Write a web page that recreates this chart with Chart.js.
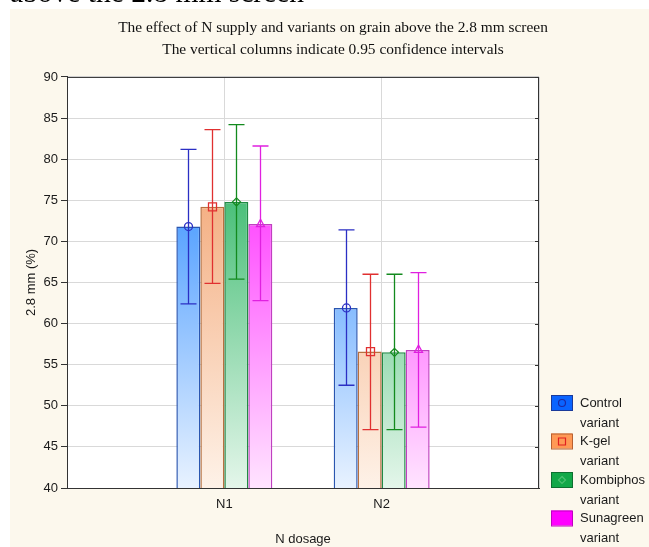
<!DOCTYPE html>
<html>
<head>
<meta charset="utf-8">
<title>N supply and variants – grain above the 2.8 mm screen</title>
<script src="https://cdn.jsdelivr.net/npm/chart.js@4.4.0/dist/chart.umd.min.js"></script>
<style>
  html, body { margin: 0; padding: 0; background: #fff; overflow: hidden; }
  #wrap { position: relative; width: 649px; height: 547px; }
  #grafico { position: absolute; left: 0; top: 0; }
  #cabecera { position: absolute; left: 10px; top: -22px; font: 29.5px/29.5px "Liberation Serif", serif; color: #000; white-space: nowrap; }
</style>
</head>
<body>
<div id="wrap">
  <canvas id="grafico" width="649" height="547"></canvas>
  <div id="cabecera">above the 2.8 mm screen</div>
</div>
<script>
// datos
const categorias = ["N1", "N2"];
const variantes = ["Control variant", "K-gel variant", "Kombiphos variant", "Sunagreen variant"];

const mediaControl = [71.8, 61.9];
const bajoControl = [62.4, 52.5];
const altoControl = [81.2, 71.4];

const mediaKgel = [74.2, 56.6];
const bajoKgel = [64.9, 47.1];
const altoKgel = [83.6, 66.0];

const mediaKombi = [74.8, 56.5];
const bajoKombi = [65.4, 47.1];
const altoKombi = [84.2, 66.0];

const mediaSuna = [72.1, 56.8];
const bajoSuna = [62.8, 47.4];
const altoSuna = [81.6, 66.2];

const ticksY = [40, 45, 50, 55, 60, 65, 70, 75, 80, 85, 90];

const titulo = [
  "The effect of N supply and variants on grain above the 2.8 mm screen",
  "The vertical columns indicate 0.95 confidence intervals"
];

// estilos por variante
const estilos = [
  { arriba: "rgb(10,120,255)", abajo: "rgb(232,242,255)", borde: "#2a56b0", error: "#2b2fc4", marca: "circle", caja: "#0a64ff", bordeCaja: "#1a3a9a", colorMarca: "#1a2aa8" },
  { arriba: "rgb(240,147,88)", abajo: "rgb(254,242,232)", borde: "#b8703f", error: "#e03030", marca: "rect", caja: "#ff9955", bordeCaja: "#b86030", colorMarca: "#e02020" },
  { arriba: "rgb(8,168,73)", abajo: "rgb(228,246,234)", borde: "#218a45", error: "#138a1e", marca: "rectRot", caja: "#12a848", bordeCaja: "#0d7030", colorMarca: "#4cc070" },
  { arriba: "rgb(255,0,255)", abajo: "rgb(255,228,255)", borde: "#c040c0", error: "#e020e0", marca: "triangle", caja: "#ff00ff", bordeCaja: "#c000c0", colorMarca: "#ff00ff" }
];

const medias = [mediaControl, mediaKgel, mediaKombi, mediaSuna];
const bajos = [bajoControl, bajoKgel, bajoKombi, bajoSuna];
const altos = [altoControl, altoKgel, altoKombi, altoSuna];

// categorias vacias a los lados para que N1 y N2 queden a 1/3 y 2/3 del eje
const etiquetas = ["", ...categorias, ""];
const rellenar = arr => [null, ...arr, null];

function degradado(arriba, abajo) {
  return ctx => {
    const area = ctx.chart.chartArea;
    if (!area) return arriba;
    const g = ctx.chart.ctx.createLinearGradient(0, area.top, 0, area.bottom);
    g.addColorStop(0, arriba);
    g.addColorStop(1, abajo);
    return g;
  };
}

function dibujarMarca(ctx, tipo, x, y, r) {
  ctx.beginPath();
  if (tipo === "circle") {
    ctx.arc(x, y, r, 0, Math.PI * 2);
  } else if (tipo === "rect") {
    ctx.rect(x - r, y - r, 2 * r, 2 * r);
  } else if (tipo === "rectRot") {
    ctx.moveTo(x, y - r); ctx.lineTo(x + r, y); ctx.lineTo(x, y + r); ctx.lineTo(x - r, y);
    ctx.closePath();
  } else {
    ctx.moveTo(x, y - r * 1.2); ctx.lineTo(x + r, y + r * 0.6); ctx.lineTo(x - r, y + r * 0.6);
    ctx.closePath();
  }
  ctx.stroke();
}

const datasets = variantes.map((nombre, i) => ({
  label: nombre,
  data: rellenar(medias[i]),
  bajo: rellenar(bajos[i]),
  alto: rellenar(altos[i]),
  estilo: estilos[i],
  backgroundColor: degradado(estilos[i].arriba, estilos[i].abajo),
  borderColor: estilos[i].borde,
  borderWidth: 1.5,
  barPercentage: 1,
  categoryPercentage: 0.61
}));

// fondo crema y area blanca
const fondo = {
  id: "fondo",
  beforeDraw(chart) {
    const { ctx, chartArea: a } = chart;
    ctx.save();
    ctx.fillStyle = "#ffffff";
    ctx.fillRect(0, 0, chart.width, chart.height);
    ctx.fillStyle = "#fcf8ed";
    ctx.fillRect(10, 9, chart.width - 10, chart.height - 9);
    ctx.fillStyle = "#ffffff";
    ctx.fillRect(a.left, a.top, a.right - a.left, a.bottom - a.top);
    ctx.restore();
  }
};

// marco del grafico y marcas interiores a la derecha
const marco = {
  id: "marco",
  afterDatasetsDraw(chart) {
    const { ctx, chartArea: a, scales: { y } } = chart;
    ctx.save();
    ctx.strokeStyle = "#333333";
    ctx.lineWidth = 1;
    ctx.strokeRect(a.left + 0.5, a.top + 0.5, a.right - a.left - 1, a.bottom - a.top);
    ctx.beginPath();
    ticksY.forEach(v => {
      const py = Math.round(y.getPixelForValue(v)) + 0.5;
      ctx.moveTo(a.right - 4, py);
      ctx.lineTo(a.right, py);
    });
    ctx.stroke();
    ctx.restore();
  }
};

// intervalos de confianza 0.95
const barrasError = {
  id: "barrasError",
  afterDatasetsDraw(chart) {
    const { ctx, scales: { y } } = chart;
    chart.data.datasets.forEach((ds, i) => {
      const meta = chart.getDatasetMeta(i);
      meta.data.forEach((barra, j) => {
        if (ds.data[j] == null) return;
        const x = Math.round(barra.x) + 0.5;
        const yAlto = y.getPixelForValue(ds.alto[j]);
        const yBajo = y.getPixelForValue(ds.bajo[j]);
        ctx.save();
        ctx.strokeStyle = ds.estilo.error;
        ctx.lineWidth = 1.3;
        ctx.beginPath();
        ctx.moveTo(x, yAlto); ctx.lineTo(x, yBajo);
        ctx.moveTo(x - 8, yAlto); ctx.lineTo(x + 8, yAlto);
        ctx.moveTo(x - 8, yBajo); ctx.lineTo(x + 8, yBajo);
        ctx.stroke();
        dibujarMarca(ctx, ds.estilo.marca, x, barra.y, 4);
        ctx.restore();
      });
    });
  }
};

// leyenda a la derecha, dos lineas por variante
const leyenda = {
  id: "leyenda",
  afterDraw(chart) {
    const { ctx } = chart;
    ctx.save();
    ctx.font = "13px 'Liberation Sans', Arial, sans-serif";
    ctx.textBaseline = "middle";
    ctx.textAlign = "left";
    chart.data.datasets.forEach((ds, i) => {
      const top = 395 + i * 38.5;
      const e = ds.estilo;
      ctx.fillStyle = e.caja;
      ctx.fillRect(551, top, 21, 15);
      ctx.strokeStyle = e.bordeCaja;
      ctx.lineWidth = 1;
      ctx.strokeRect(551.5, top + 0.5, 21, 15);
      ctx.strokeStyle = e.colorMarca;
      ctx.lineWidth = 1.2;
      dibujarMarca(ctx, e.marca, 562, top + 8, 3.5);
      const partes = ds.label.split(" ");
      ctx.fillStyle = "#1a1a1a";
      ctx.fillText(partes[0], 580, top + 8);
      ctx.fillText(partes.slice(1).join(" "), 580, top + 28);
    });
    ctx.restore();
  }
};

const fuenteEjes = { family: "'Liberation Sans', Arial, sans-serif", size: 13 };

new Chart(document.getElementById("grafico"), {
  type: "bar",
  data: { labels: etiquetas, datasets },
  options: {
    responsive: false,
    animation: false,
    layout: { padding: { left: 17, right: 0, top: 9, bottom: 0 } },
    plugins: {
      legend: { display: false },
      tooltip: { enabled: false },
      title: {
        display: true,
        text: titulo,
        color: "#111",
        font: { family: "'Liberation Serif', 'Times New Roman', serif", size: 15.4, weight: "normal", lineHeight: 1.43 },
        padding: { top: 8, bottom: 15.9 }
      }
    },
    scales: {
      x: {
        offset: false,
        grid: { offset: false, color: "#d9d9d9", drawTicks: false },
        border: { color: "#333333" },
        ticks: { color: "#1a1a1a", font: fuenteEjes, padding: 9, maxRotation: 0, autoSkip: false },
        title: { display: true, text: "N dosage", color: "#1a1a1a", font: fuenteEjes, padding: { top: 6, bottom: 0 } },
        afterFit: s => { s.height = 59; }
      },
      y: {
        min: ticksY[0],
        max: ticksY[ticksY.length - 1],
        grid: { color: "#d9d9d9", tickColor: "#333333", tickLength: 6 },
        border: { color: "#333333" },
        ticks: { stepSize: ticksY[1] - ticksY[0], color: "#1a1a1a", font: fuenteEjes, padding: 3 },
        title: { display: true, text: "2.8 mm (%)", color: "#1a1a1a", font: fuenteEjes, padding: { top: 7, bottom: 0 } },
        afterFit: s => { s.width = 50; }
      },
      y2: {
        position: "right",
        min: ticksY[0],
        max: ticksY[ticksY.length - 1],
        grid: { display: false },
        border: { display: false },
        ticks: { display: false },
        afterFit: s => { s.width = 110; }
      }
    }
  },
  plugins: [fondo, marco, barrasError, leyenda]
});
</script>
</body>
</html>
